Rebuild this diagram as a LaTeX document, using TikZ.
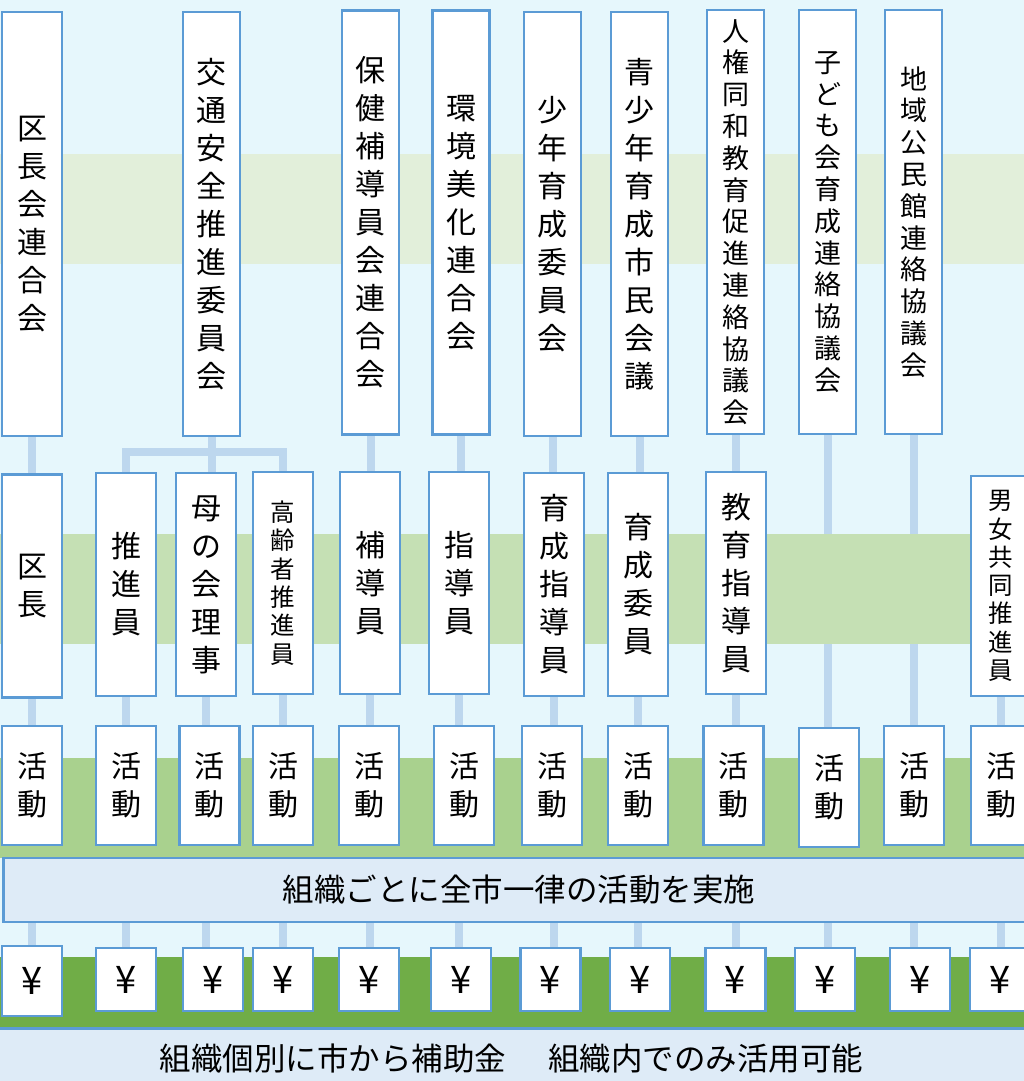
\documentclass[tikz,border=0pt]{standalone}
\usepackage{fontspec}
\setmainfont{Noto Sans CJK JP}
\definecolor{bgcyan}{RGB}{230,247,252}
\definecolor{bandA}{RGB}{226,239,218}
\definecolor{bandB}{RGB}{197,224,180}
\definecolor{bandC}{RGB}{169,209,142}
\definecolor{bandD}{RGB}{112,173,71}
\definecolor{barfill}{RGB}{222,235,247}
\definecolor{boxblue}{RGB}{91,155,213}
\definecolor{connblue}{RGB}{189,215,238}
\pgfdeclarelayer{back}
\pgfdeclarelayer{links}
\pgfdeclarelayer{bands}
\pgfsetlayers{back,links,bands,main}
\begin{document}
\begin{tikzpicture}[x=1pt,y=-1pt,
  box/.style={draw=boxblue,line width=2.5pt,fill=white,inner sep=0pt,align=center,text=black},
  topbox/.style={box,minimum width=57pt,minimum height=424pt},
  midbox/.style={box,minimum width=60pt,minimum height=222pt},
  actbox/.style={box,minimum width=60pt,minimum height=119pt,font=\fontsize{30}{38}\selectfont},
  yenbox/.style={box,minimum width=60pt,minimum height=63pt,font=\fontsize{38}{40}\selectfont},
  fbig/.style={font=\fontsize{30}{38}\selectfont},
  fmid/.style={font=\fontsize{27}{31.8}\selectfont},
  fsmall/.style={font=\fontsize{24.5}{28.3}\selectfont},
  barbox/.style={draw=boxblue,line width=2.5pt,fill=barfill,inner sep=0pt,text=black,font=\fontsize{31.5}{38}\selectfont},
  conn/.style={draw=connblue,line width=8pt}
]
\useasboundingbox (0,0) rectangle (1024,1081);
\begin{pgfonlayer}{back}
  \fill[bgcyan] (0,0) rectangle (1024,1081);
  \fill[bandA] (0,154) rectangle (1024,264);
  \fill[bandD] (0,957) rectangle (1024,1027);
\end{pgfonlayer}
\begin{pgfonlayer}{bands}
  \fill[bandB] (0,534) rectangle (1024,644);
  \fill[bandC] (0,758) rectangle (1024,858);
\end{pgfonlayer}

% top row
\node[topbox,fbig,minimum width=60pt] (t1) at (32,224) {区\\長\\会\\連\\合\\会};
\node[topbox,fbig] (t2) at (211.5,224) {交\\通\\安\\全\\推\\進\\委\\員\\会};
\node[topbox,fbig] (t3) at (370.5,222.5) {保\\健\\補\\導\\員\\会\\連\\合\\会};
\node[topbox,fbig] (t4) at (461,222.5) {環\\境\\美\\化\\連\\合\\会};
\node[topbox,fbig] (t5) at (552.5,224) {少\\年\\育\\成\\委\\員\\会};
\node[topbox,fbig] (t6) at (639.5,224) {青\\少\\年\\育\\成\\市\\民\\会\\議};
\node[topbox,fmid] (t7) at (735.5,222) {人\\権\\同\\和\\教\\育\\促\\進\\連\\絡\\協\\議\\会};
\node[topbox,fmid] (t8) at (827.5,222) {子\\ど\\も\\会\\育\\成\\連\\絡\\協\\議\\会};
\node[topbox,fmid] (t9) at (913.5,222) {地\\域\\公\\民\\館\\連\\絡\\協\\議\\会};

% middle row
\node[midbox,fbig,minimum height=223pt] (m1) at (32,586) {区\\長};
\node[midbox,fbig,minimum height=223pt] (m2) at (126,584.5) {推\\進\\員};
\node[midbox,fbig,minimum height=223pt] (m3) at (206,584.5) {母\\の\\会\\理\\事};
\node[midbox,fsmall] (m4) at (283,583) {高\\齢\\者\\推\\進\\員};
\node[midbox,fbig] (m5) at (370,583) {補\\導\\員};
\node[midbox,fbig] (m6) at (459,583) {指\\導\\員};
\node[midbox,fbig,minimum height=223pt] (m7) at (554,584.5) {育\\成\\指\\導\\員};
\node[midbox,fbig,minimum height=223pt] (m8) at (638,584.5) {育\\成\\委\\員};
\node[midbox,fbig] (m9) at (736,583) {教\\育\\指\\導\\員};
\node[midbox,fsmall,minimum height=220pt] (m10) at (1001,586) {男\\女\\共\\同\\推\\進\\員};

% activity row
\node[actbox] (a1) at (32,785.5) {活\\動};
\node[actbox] (a2) at (126,785.5) {活\\動};
\node[actbox] (a3) at (209.5,785.5) {活\\動};
\node[actbox] (a4) at (283,785.5) {活\\動};
\node[actbox] (a5) at (369,785.5) {活\\動};
\node[actbox] (a6) at (464,785.5) {活\\動};
\node[actbox] (a7) at (552,785.5) {活\\動};
\node[actbox] (a8) at (638,785.5) {活\\動};
\node[actbox] (a9) at (733.5,785.5) {活\\動};
\node[actbox] (a10) at (829,787.5) {活\\動};
\node[actbox] (a11) at (914,785.5) {活\\動};
\node[actbox] (a12) at (1001,785.5) {活\\動};

% bar
\node[barbox,minimum width=1040pt,minimum height=64pt,anchor=west] (bar) at (2,890) {};
\node[text=black,font=\fontsize{31.5}{38}\selectfont,inner sep=0pt] (bartext) at (519,890) {組織ごとに全市一律の活動を実施};

% yen row
\node[yenbox,minimum height=70pt] (y1) at (32,981) {¥};
\node[yenbox] (y2) at (126,979.5) {¥};
\node[yenbox] (y3) at (213,979.5) {¥};
\node[yenbox] (y4) at (283,979.5) {¥};
\node[yenbox] (y5) at (369,979.5) {¥};
\node[yenbox] (y6) at (461,979.5) {¥};
\node[yenbox] (y7) at (550.5,979.5) {¥};
\node[yenbox] (y8) at (640,979.5) {¥};
\node[yenbox] (y9) at (735.5,979.5) {¥};
\node[yenbox] (y10) at (825,979.5) {¥};
\node[yenbox] (y11) at (920,979.5) {¥};
\node[yenbox] (y12) at (1000,979.5) {¥};

% footer
\node[barbox,minimum width=1060pt,minimum height=70pt,anchor=north] (foot) at (512,1027) {};
\node[text=black,font=\fontsize{31.5}{38}\selectfont,inner sep=0pt] (foottext) at (511.5,1059) {組織個別に市から補助金\hspace{42pt}組織内でのみ活用可能};

\coordinate (br) at (210,452);
\begin{pgfonlayer}{links}
  \draw[conn] (t1.south) -- (t1.south |- m1.north);
  \draw[conn] (t2.south) -- (t2.south |- m3.north);
  \draw[conn] (m2.north) |- (br) -| (m4.north);
  \draw[conn] (t3.south) -- (t3.south |- m5.north);
  \draw[conn] (t4.south) -- (t4.south |- m6.north);
  \draw[conn] (t5.south) -- (t5.south |- m7.north);
  \draw[conn] (t6.south) -- (t6.south |- m8.north);
  \draw[conn] (t7.south) -- (t7.south |- m9.north);
  \draw[conn] (t8.south) -- (t8.south |- a10.north);
  \draw[conn] (t9.south) -- (t9.south |- a11.north);
  \foreach \i in {1,...,9}{
    \draw[conn] (m\i.south) -- (m\i.south |- a\i.north);
    \draw[conn] (m\i.south |- bar.south) -- (m\i.south |- y\i.north);
  }
  \draw[conn] (m10.south) -- (m10.south |- a12.north);
  \draw[conn] (t8.south |- bar.south) -- (t8.south |- y10.north);
  \draw[conn] (t9.south |- bar.south) -- (t9.south |- y11.north);
  \draw[conn] (m10.south |- bar.south) -- (m10.south |- y12.north);
\end{pgfonlayer}
\end{tikzpicture}
\end{document}
